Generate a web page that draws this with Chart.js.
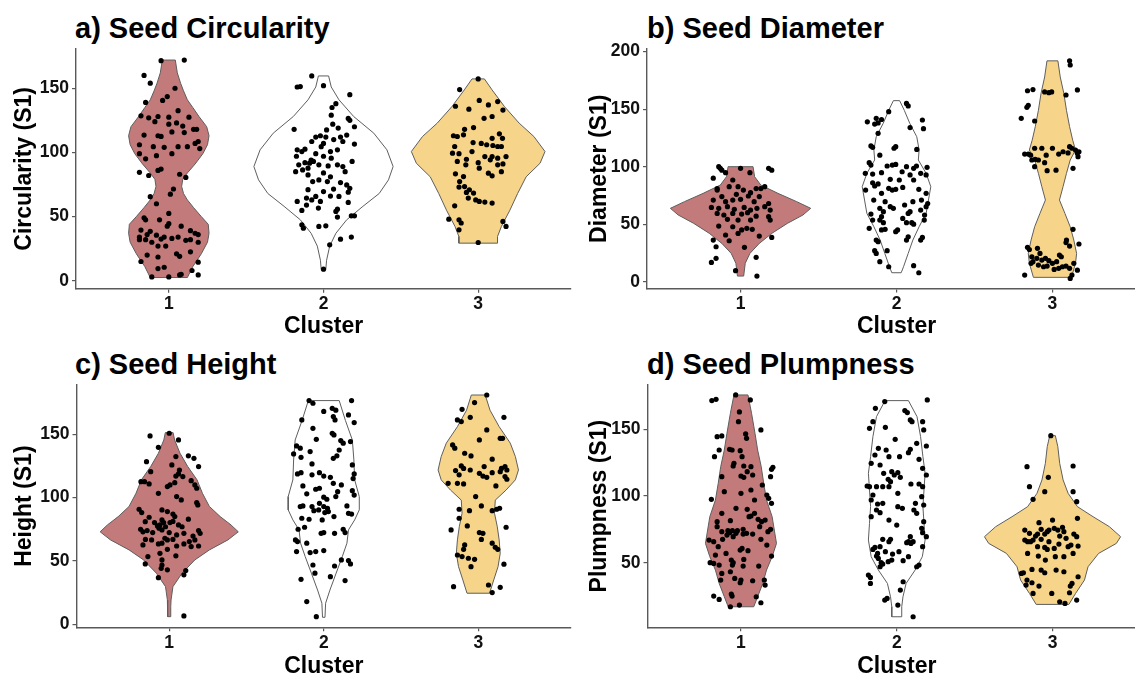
<!DOCTYPE html>
<html>
<head>
<meta charset="utf-8">
<script src="https://cdn.jsdelivr.net/npm/chart.js@4.4.1/dist/chart.umd.min.js"></script>
<style>
  html, body { margin: 0; padding: 0; background: #fff; overflow: hidden; width: 1135px; height: 677px; }
  canvas { position: absolute; }
  .title { position: absolute; font: bold 29px "Liberation Sans", Arial, sans-serif; line-height: 29px; color: #000; white-space: nowrap; }
</style>
</head>
<body>
<div class="title" style="left:75px; top:13.5px">a) Seed Circularity</div>
<div class="title" style="left:647px; top:13.5px">b) Seed Diameter</div>
<div class="title" style="left:75px; top:349.5px">c) Seed Height</div>
<div class="title" style="left:647px; top:349.5px">d) Seed Plumpness</div>
<canvas id="chart-a" width="575" height="340" style="left:0; top:0"></canvas>
<canvas id="chart-b" width="575" height="340" style="left:575px; top:0"></canvas>
<canvas id="chart-c" width="575" height="340" style="left:0; top:340px"></canvas>
<canvas id="chart-d" width="575" height="340" style="left:575px; top:340px"></canvas>
<script>
const clusters = [1, 2, 3];
const violinColors = ["#c27b7a", "#ffffff", "#f6d58a"];

// y ticks per panel
const circTicks = [0, 50, 100, 150];
const diamTicks = [0, 50, 100, 150, 200];
const heightTicks = [0, 50, 100, 150];
const plumpTicks = [50, 100, 150];

// violin outlines: [value, half width in cluster units], bottom to top
const circViolin1 = [[2.5,0.12],[11,0.155],[21,0.21],[30,0.25],[37,0.26],[44,0.255],[50,0.21],[57,0.16],[63,0.12],[68,0.095],[73.5,0.083],[79,0.09],[84,0.12],[91,0.17],[99,0.22],[106,0.25],[113,0.26],[120,0.245],[128,0.195],[135,0.155],[141,0.12],[148,0.095],[154,0.076],[162,0.055],[172,0.042]];
const circViolin2 = [[9,0.015],[16,0.02],[27,0.04],[37,0.08],[47.5,0.15],[58,0.255],[68,0.36],[78.6,0.42],[89,0.45],[102,0.41],[115,0.325],[128,0.195],[141,0.1],[151,0.05],[159.6,0.033]];
const circViolin3 = [[29.3,0.125],[34.5,0.125],[42.3,0.15],[55,0.205],[68,0.255],[81,0.31],[91.6,0.4],[100.7,0.432],[112.4,0.36],[122.8,0.265],[135.7,0.17],[148.7,0.09],[157.3,0.04]];

const diamViolin1 = [[4.9,0.02],[16,0.03],[24.6,0.06],[33.3,0.12],[42,0.2],[50.7,0.3],[58,0.4],[63.8,0.45],[69.6,0.36],[76.8,0.24],[84,0.13],[91.3,0.09],[100,0.08]];
const diamViolin2 = [[7.8,0.03],[13,0.045],[24.6,0.075],[36.2,0.105],[47.8,0.145],[59.4,0.19],[71,0.205],[82.6,0.22],[94.2,0.19],[105.8,0.14],[114.5,0.145],[126,0.13],[137.7,0.085],[149,0.05],[157.4,0.02]];
const diamViolin3 = [[3.8,0.122],[16,0.148],[24.6,0.155],[36.2,0.137],[47.8,0.114],[59.4,0.08],[71,0.045],[82.6,0.068],[94.2,0.09],[105.8,0.114],[114.5,0.148],[123,0.13],[134.8,0.11],[149,0.09],[163.8,0.073],[178,0.05],[192,0.035]];

const heightViolin1 = [[6,0.01],[14,0.01],[19.2,0.012],[29.7,0.024],[40.3,0.083],[50.8,0.166],[58.7,0.26],[66.6,0.38],[73,0.447],[78.4,0.4],[85,0.33],[93,0.26],[103.4,0.215],[114,0.18],[124.5,0.12],[135,0.07],[145.5,0.035],[151.3,0.025]];
const heightViolin2 = [[5.5,0.008],[16.6,0.012],[27,0.04],[40.3,0.08],[53.4,0.12],[64,0.15],[74.5,0.16],[82.4,0.2],[90.3,0.23],[100.8,0.23],[114,0.2],[129.7,0.195],[145.5,0.185],[161,0.14],[176.6,0.1]];
const heightViolin3 = [[24.5,0.073],[35,0.1],[45.5,0.128],[56,0.142],[66.6,0.135],[77,0.123],[87.6,0.105],[98,0.11],[106,0.18],[114,0.24],[121.8,0.26],[132.4,0.24],[143,0.207],[156,0.135],[169,0.076],[181,0.045]];

const plumpViolin1 = [[17,0.082],[24.5,0.107],[34.5,0.14],[44.5,0.164],[54.5,0.2],[64.5,0.228],[74.5,0.214],[84.5,0.2],[97,0.164],[109.5,0.146],[122,0.13],[134.5,0.107],[147,0.09],[162,0.068],[175.75,0.045]];
const plumpViolin2 = [[9.5,0.032],[17,0.032],[24.5,0.04],[34.5,0.06],[44.5,0.118],[54.5,0.164],[67,0.182],[79.5,0.175],[92,0.168],[104.5,0.175],[117,0.182],[129.5,0.168],[144.5,0.153],[159.5,0.13],[171.5,0.075]];
const plumpViolin3 = [[18.75,0.105],[27,0.148],[37,0.205],[47,0.228],[57,0.296],[64.5,0.41],[69.5,0.437],[77,0.365],[84.5,0.26],[92,0.16],[102,0.1],[112,0.068],[124.5,0.046],[137,0.034],[145.25,0.018]];

// jittered observations: [offset from cluster, value]
const circPoints1 = [[-0.05,171.5],[0.10,172],[-0.16,160],[-0.12,154],[0.04,150],[-0.01,143.5],[-0.04,140.5],[-0.15,139],[0.06,132.5],[-0.18,128.5],[-0.13,127],[-0.07,128],[0,127.5],[0.13,127.5],[0.05,123],[0.09,120.5],[0,122],[-0.09,124],[0.16,118],[0.18,118],[-0.16,113.5],[-0.07,113],[-0.05,112.5],[0.10,115.5],[0.02,116],[0.19,108.5],[0.17,107],[-0.19,106],[-0.10,104.5],[-0.03,104],[0.06,104.5],[0.12,104.5],[0.20,103],[-0.19,99],[0.02,99],[-0.08,97.5],[-0.15,95],[-0.05,87],[-0.07,86],[-0.19,84.5],[-0.13,82],[0.07,83],[0.11,80.5],[0.03,71.5],[0.01,67.5],[-0.12,65.5],[-0.08,60],[0,52.5],[-0.16,49],[-0.15,47.5],[-0.06,47.5],[0,44.5],[-0.01,42.5],[0.08,42.5],[-0.18,39.5],[-0.12,38.5],[0.14,39],[0.17,37],[0.19,36],[-0.19,34],[-0.14,36],[-0.08,35.5],[-0.03,34],[0.02,33],[0.06,34],[-0.19,32],[-0.15,32],[-0.05,32.5],[0.11,31.5],[0.14,32],[0.19,30],[-0.11,30],[-0.07,27],[-0.02,27],[-0.14,20],[-0.07,18.5],[0.05,21],[0.07,19],[0.14,22.5],[-0.18,15],[0.19,14.5],[-0.07,9.5],[-0.03,10.5],[0.07,4.5],[0.08,5],[0.15,8],[0.19,4.5],[-0.11,3],[0,3]];
const circPoints2 = [[-0.076,159.6],[0,152],[-0.17,151],[-0.15,151.3],[0.08,138],[0.055,135],[0.17,145],[0.05,129],[0.16,126.5],[0.17,125],[-0.19,118],[0.2,120],[0.06,122],[0.02,117.5],[0.095,119],[-0.05,112],[-0.02,113],[0.015,112],[0.11,112],[0.15,113.5],[-0.076,108.5],[0,107],[0.066,110],[0.125,108.5],[0.2,106.5],[-0.17,102],[-0.14,100.7],[-0.12,102.5],[-0.015,104.5],[0.045,100.7],[0.09,102],[-0.175,97],[-0.05,99],[0,97],[0.05,95.5],[-0.08,94],[-0.12,92],[-0.09,91.6],[-0.065,93],[-0.03,90.3],[-0.16,90.3],[0.03,89.5],[0.09,90.3],[0.125,89],[0.185,93],[0.14,85],[-0.135,86.4],[-0.1,87.7],[-0.18,85],[0,84],[0.045,81],[-0.03,78.6],[-0.07,77.3],[0.025,77.3],[-0.1,82.5],[0.11,76.5],[0.15,74.7],[0.17,72],[0.065,71.4],[-0.1,71],[0,69.5],[0.16,69],[-0.05,65.7],[-0.11,64.4],[-0.076,63],[0.045,66],[0.1,65.7],[-0.17,61.8],[-0.02,61.8],[0.16,61],[-0.11,59],[-0.033,56.6],[0.09,55.8],[0.08,54],[-0.14,54.8],[0.18,50.6],[0.2,50.6],[0.09,49.6],[-0.14,43.6],[-0.13,41],[-0.03,42.3],[0.015,42.8],[0.11,32.4],[0.18,34],[0.04,28],[0,9]];
const circPoints3 = [[-0.12,149],[0,157.3],[-0.147,136],[-0.06,133.7],[0.007,140.5],[0.066,137],[0.126,139.6],[0.16,133],[0.09,128],[0.038,126.6],[-0.03,119.4],[-0.088,118],[-0.135,112.4],[-0.16,113],[-0.095,113.7],[0.09,111],[0.137,114.5],[0.157,111],[-0.033,107.7],[0.02,107],[0.055,106],[0.095,105.4],[0.126,104.6],[0.15,104.6],[-0.152,104.6],[-0.166,99.4],[-0.124,99],[-0.04,100.7],[0.043,96.8],[0.09,96.8],[0.18,96.8],[0.126,95.5],[0.078,94.2],[-0.076,94.7],[-0.135,93],[0,92],[0.126,90.3],[0.16,91],[-0.08,90.3],[-0.147,83.3],[-0.095,81.2],[0.007,87.7],[0.066,83.8],[0.15,85],[0.09,81.8],[-0.12,77.3],[-0.088,73.4],[-0.124,73],[-0.057,70.9],[-0.076,68.8],[-0.03,68.3],[-0.064,64.4],[-0.016,63],[0.007,61.8],[0.043,61.3],[0.09,60.5],[-0.152,58.4],[-0.19,48],[-0.124,47.5],[-0.11,45],[-0.124,39.7],[0.16,46.2],[0.18,42.3],[0,29.8]];

const diamPoints1 = [[-0.14,100],[-0.13,98.6],[-0.12,97],[-0.096,94.8],[0,98.6],[0.06,94.8],[0.18,98.6],[0.2,97],[-0.175,90],[-0.05,88.4],[-0.073,82.6],[-0.15,81],[-0.15,79.7],[-0.016,82.6],[0.018,79.7],[0.064,77.4],[0.1,81],[0.13,81],[0.155,82.6],[-0.12,74],[-0.027,76],[0.05,74.5],[0.12,74],[-0.175,71],[-0.096,69.6],[-0.05,71],[0,71.6],[0.087,69.6],[0.18,68],[-0.187,64.6],[-0.14,63.8],[-0.084,65.2],[-0.04,63],[0.023,64.6],[0.064,62.3],[0.105,63.8],[0.155,65.2],[0.19,62.3],[-0.15,59.4],[-0.107,58],[-0.05,59.4],[0.007,58.8],[0.045,60],[0.1,57],[0.18,56.5],[-0.084,54.2],[-0.016,53.6],[0.064,53.6],[0.19,53.6],[-0.14,48.4],[-0.05,47.8],[0.007,45],[0.04,46.4],[0.075,45.5],[-0.096,40.6],[-0.016,42],[0.12,39.7],[0.2,38.5],[-0.175,36.2],[-0.073,35.6],[-0.157,30.4],[0.025,29.9],[-0.157,20.3],[-0.187,16.8],[0.1,21.2],[-0.032,9.6],[0.105,4.9]];
const diamPoints2 = [[0.064,155],[0.075,152.8],[-0.05,147.8],[-0.13,142],[-0.096,141],[-0.187,139],[-0.14,137],[-0.118,138],[0.087,134],[0.166,140.6],[0.173,133],[-0.118,129],[-0.164,118],[-0.153,116.8],[-0.016,116],[-0.005,117.4],[-0.107,110],[0.13,115],[-0.175,103.5],[-0.164,101.4],[-0.06,100.6],[-0.027,101.4],[-0.005,102],[0.064,100],[0.11,98.6],[0.128,100.6],[0.196,99.4],[-0.2,94.2],[-0.153,93.6],[-0.096,94.8],[0.036,95.6],[0.087,92.8],[0.155,94.2],[0.19,92.8],[-0.04,89],[0.018,88.4],[0.11,88.4],[-0.153,86],[-0.118,85],[-0.14,83.2],[-0.198,79.7],[-0.05,81.2],[-0.027,79.7],[-0.005,80.3],[0.04,82],[0.143,80.3],[0.19,76.8],[-0.096,76.8],[-0.146,71],[0.105,69.6],[0.16,71],[-0.073,69.6],[0.2,68],[0.052,66.7],[-0.04,65.2],[-0.02,63.8],[-0.107,63.8],[0.19,65.2],[0.155,62.3],[-0.084,60.9],[0.087,60.9],[0.075,59.4],[-0.164,58.8],[0.18,58],[-0.096,56.5],[-0.107,53.6],[0.04,55],[0.064,51.3],[0.098,51.3],[0.11,50],[-0.153,53.6],[0.178,53.6],[-0.084,51.3],[-0.096,45],[-0.073,45.5],[-0.175,46.4],[0.007,45],[-0.005,43.5],[0.075,39],[0.064,36.2],[-0.13,36.2],[-0.118,34.8],[0.166,38.5],[0.155,36.2],[-0.14,27],[-0.13,24.6],[-0.06,27],[-0.107,17.4],[-0.05,13],[0.11,13.9],[0.143,7.8]];
const diamPoints3 = [[0.11,192],[0.114,188.4],[-0.16,166],[-0.125,167],[-0.05,165],[-0.023,164.3],[-0.005,165],[0.16,166.7],[0.087,162.3],[-0.164,151.6],[-0.155,153.3],[-0.2,142],[-0.114,139.7],[-0.178,111],[-0.155,111],[-0.14,110],[-0.114,116],[-0.068,116],[-0.04,110],[0,116],[0.04,111],[0.068,113],[0.11,117.4],[0.125,116],[0.148,114.5],[0.16,111.6],[0.17,113],[0.164,108.7],[0.1,112],[-0.132,105.8],[-0.11,106.4],[-0.09,105.8],[-0.114,100],[-0.05,103.5],[0.132,98.6],[-0.034,96.5],[0.023,97],[0.132,45.5],[-0.16,29.9],[-0.148,28],[0.09,36.2],[0.087,34],[0.11,31],[0.17,32.8],[-0.096,29],[-0.08,24.6],[-0.132,21.7],[-0.1,20.3],[-0.125,17.4],[-0.137,16],[-0.068,18.8],[-0.045,20.3],[-0.023,18.3],[-0.09,14.5],[-0.057,13],[-0.034,13.6],[0,16],[0.027,17.4],[0.045,23.2],[0.057,21.7],[0.011,10.7],[0.04,11.6],[0.064,13],[0.087,13.6],[0.11,11.6],[0.137,16],[0.16,10],[-0.178,5.8],[0.125,5.8],[0.114,2.9]];

const heightPoints1 = [[-0.124,148.7],[0,150.8],[0.06,145.5],[-0.07,139.7],[0.043,132.4],[0.124,133],[0.16,131],[0.19,124.5],[-0.147,128.4],[0.017,125.8],[0.066,121.8],[-0.12,120.5],[0.043,117],[0.06,118.7],[-0.183,112.6],[-0.16,112.6],[-0.012,108.7],[0.005,110],[0.036,111.8],[0.088,116.6],[0.142,113.4],[0.166,110],[0.178,107.4],[-0.13,110.8],[0.048,100.8],[-0.07,103.4],[0.078,98.2],[0.178,96],[0.185,94.2],[-0.195,90.8],[-0.178,88.2],[-0.047,90.3],[-0.012,89],[-0.13,84.5],[0.024,87],[0.036,85],[0.124,83],[-0.047,82.4],[-0.036,80.3],[-0.155,81],[-0.095,80.3],[0.005,80.3],[0.024,81.2],[0.06,78.4],[0.083,77],[-0.076,77.6],[-0.06,78.4],[-0.024,77],[-0.185,75],[-0.17,73],[-0.143,74],[-0.107,72.4],[-0.066,75.8],[-0.047,74.5],[0.19,74],[0.2,71.8],[0,72.4],[0.048,70.5],[0.095,71.8],[0.154,69.7],[-0.154,67],[-0.114,66.6],[-0.028,67.9],[-0.012,66.6],[0.024,67],[0.13,65.3],[0.166,66.6],[-0.17,62.6],[-0.07,63.4],[-0.047,64],[0.048,61.8],[0.095,63.4],[0.19,61.8],[0.142,61.3],[-0.06,56],[-0.012,59.2],[-0.138,53.4],[0.043,54],[-0.047,50.8],[-0.155,47.6],[-0.047,46.8],[-0.052,44.2],[-0.012,43],[0.107,42.4],[0.095,39],[-0.07,36.8],[0.095,6.6]];
const heightPoints2 = [[-0.095,176.6],[-0.07,174.5],[0.18,176.6],[0.055,170.5],[0.078,169],[0,168],[-0.142,161.3],[0.062,164],[0.073,161.3],[0.16,165.3],[0.197,159.2],[-0.07,154.7],[0.055,150.8],[0.066,149.5],[-0.048,146],[0.11,145],[0.126,143],[0.173,144.2],[-0.176,140.8],[-0.152,139],[-0.088,136.3],[-0.195,134.5],[-0.147,131.8],[0.062,131],[0.085,133],[0.1,137.6],[0.185,125.8],[-0.076,126.6],[-0.147,119.7],[-0.17,118.7],[-0.076,118],[-0.028,119.7],[0,117],[0.043,116],[0.197,118.7],[0.19,115],[-0.135,109.2],[0.062,111.3],[0.114,110],[-0.052,106.6],[-0.028,107.4],[0.185,105.5],[0.197,102],[0.09,104.7],[-0.11,103],[0,100.3],[0.02,98.7],[0.078,100.8],[-0.028,95.5],[-0.135,93.4],[-0.152,92.9],[-0.076,92.9],[0,92.9],[0.024,91.6],[0.15,93.4],[-0.064,89.7],[-0.033,90.3],[0.007,88.2],[0.03,89],[0.16,87.6],[0.18,87],[0.066,85],[-0.01,82.4],[-0.142,83.7],[-0.095,82.9],[-0.124,76.6],[-0.166,75],[0.126,75],[0.138,72.4],[-0.017,71.8],[0,72.4],[0.07,71.8],[-0.183,66.6],[-0.17,65.3],[-0.11,64],[-0.088,56.6],[-0.052,57.4],[0,58.2],[-0.176,57.4],[0.16,50.3],[0.173,47.6],[0.114,50.8],[-0.07,46.8],[0.07,46],[-0.057,40.3],[-0.147,35.5],[0.043,37.6],[0.138,34.5],[-0.11,17.9],[-0.048,6]];
const heightPoints3 = [[0.055,181],[-0.024,175],[-0.105,169.7],[-0.052,163.4],[-0.135,161.3],[-0.11,160],[0.055,153.4],[0.166,163.4],[0.142,146.8],[0.157,146.8],[0.007,145.5],[-0.166,141.6],[-0.152,139],[-0.088,135],[-0.047,132.9],[0.09,130.3],[0.038,124.5],[0.15,123],[0.173,124.5],[-0.11,125],[-0.095,123],[-0.147,121.3],[-0.052,121.8],[0.09,119.7],[0.142,120.5],[0.185,121.8],[-0.124,118],[0.007,119.2],[0.03,117],[0.055,116],[0.173,116.6],[0.185,114.5],[-0.195,111.3],[-0.135,111.3],[-0.095,110.8],[0.114,109.2],[-0.017,100.8],[0.02,93.4],[-0.124,90.8],[-0.057,89.7],[0.09,89.7],[0.119,90.8],[0.138,91.6],[-0.124,83.7],[-0.176,74.5],[-0.071,77.6],[0.18,76.6],[0.007,72.4],[0.03,71.8],[0.02,67],[0.09,64],[0.11,60.8],[0.126,59.2],[-0.088,62.6],[-0.095,59.2],[-0.135,54.7],[-0.105,53.4],[-0.064,52.1],[-0.024,51.3],[-0.047,45.5],[0.166,47.4],[-0.16,29.7],[0.066,31],[0.142,29.2],[0.09,25]];

const plumpPoints1 = [[-0.187,171.5],[-0.16,172.5],[-0.034,175.75],[0.06,172],[-0.01,163],[-0.016,155.75],[0.128,149.5],[0.03,146.5],[0.036,143.25],[-0.153,144.5],[-0.123,145],[-0.14,134.5],[-0.073,135],[-0.057,134.5],[-0.005,134],[-0.17,129.5],[-0.045,124.5],[-0.05,122.5],[0.007,129.5],[0.018,122.5],[0.064,122],[0.04,118.25],[0.196,120],[0.205,121.5],[-0.123,114.5],[0,115],[0.018,114],[0.075,115.75],[0.19,114.5],[0.137,108.25],[0.064,104.5],[-0.107,103.25],[0,102],[0.166,100.75],[0.178,98.25],[-0.19,97.5],[0.087,97],[0.196,94.5],[-0.032,90.75],[0.04,90],[0.087,87],[-0.123,87],[0.052,84.5],[0.064,85],[0.11,82.5],[0.132,80.75],[0.155,82],[-0.153,80.75],[-0.068,81.5],[-0.153,77],[0.014,75],[0.19,75],[0.173,73.25],[0.12,77],[-0.123,73.25],[-0.084,74],[-0.073,72.5],[-0.055,74],[-0.032,72],[-0.023,74],[-0.09,70.75],[-0.05,69.5],[0.014,71.5],[0.036,72],[0.075,71.5],[-0.205,67],[-0.175,65.75],[-0.118,67.5],[0.128,67.5],[0.166,63.25],[-0.146,62],[0.007,60.75],[-0.005,59.5],[0.045,59],[-0.096,57],[-0.164,55.75],[0.196,55],[-0.198,50],[-0.175,49.5],[-0.14,48.25],[-0.062,52],[-0.05,50],[-0.055,48.25],[0.018,52.5],[0.014,47.5],[0.114,47.5],[-0.123,42],[-0.068,43.25],[-0.04,38.25],[0.15,37],[0.155,33.25],[-0.13,37],[0,37],[-0.005,35],[0.075,36.5],[-0.175,25],[-0.14,22.5],[-0.062,26.5],[-0.057,25],[0.098,24.5],[0.128,20],[-0.068,17],[-0.01,18.25]];
const plumpPoints2 = [[-0.077,170.75],[0.196,172],[-0.137,165.75],[0.052,164],[0.068,162.5],[0.087,157],[0.098,155.75],[-0.153,155.75],[-0.073,151.5],[-0.175,150.75],[0.166,155.75],[0.173,149.5],[-0.01,142.5],[0.128,139.5],[-0.118,135.75],[-0.068,134.5],[0.087,135],[0.075,132.5],[0.19,137.5],[-0.14,130.75],[-0.05,129.5],[0.018,129.5],[0.143,127.5],[-0.164,124.5],[-0.107,123.25],[0.166,120.75],[-0.084,117],[-0.032,118.25],[-0.016,115.75],[0.007,117.5],[-0.055,112.5],[-0.04,110.75],[0.023,114],[0.19,115.75],[0.091,109],[0.143,109],[-0.19,107.5],[-0.175,107],[-0.13,107],[-0.09,107],[-0.05,107],[0.166,107],[0.007,102],[-0.153,100.75],[0.16,99.5],[-0.164,97],[-0.09,94.5],[-0.123,94],[0.173,93.25],[0.12,94.5],[0.007,92],[0.036,90.75],[-0.13,89.5],[-0.107,87.5],[0.11,89.5],[0.128,87],[-0.164,84.5],[-0.05,82],[0.173,80.75],[0,78.25],[0.16,75.75],[0.166,72.5],[0.19,69.5],[0.087,69.5],[-0.09,67.5],[-0.05,65.75],[-0.04,67.5],[0.064,65],[0.075,65.75],[0.091,64.5],[0.105,65.75],[-0.14,61.5],[-0.153,60],[-0.107,62],[0.166,62],[-0.073,58.25],[0.014,58.25],[-0.123,57],[-0.13,55],[-0.118,53.25],[-0.027,56.5],[0.075,54.5],[-0.1,50],[-0.09,49],[-0.055,50.75],[-0.032,52],[0.041,51.5],[-0.107,47],[0.143,48.25],[0.128,47],[-0.182,40.75],[-0.169,39],[-0.169,34.5],[0.041,35.75],[0.023,29.5],[-0.077,22],[-0.062,23.25],[0.007,18.25],[0.105,9.5]];
const plumpPoints3 = [[-0.011,145.25],[-0.164,122],[0.132,122.5],[-0.027,114],[-0.148,107],[-0.05,103.25],[0.132,103.25],[-0.125,97.5],[0.155,95.75],[0.16,83.25],[-0.087,80],[0,82],[-0.178,74.5],[-0.073,75],[-0.034,73.25],[-0.023,74.5],[0.011,75.75],[0.034,74.5],[0.064,76.5],[0.073,73.25],[-0.148,72],[-0.109,70],[-0.096,71.5],[-0.05,71.5],[0.046,70],[0.087,68.25],[0.137,71.5],[0.155,69.5],[-0.178,67],[-0.16,65.75],[-0.141,65.75],[-0.125,67],[-0.073,67.5],[-0.023,65.75],[-0.096,62],[-0.05,61.5],[-0.034,60],[0.011,60.75],[0.041,64],[0.1,62],[0.118,63.25],[0.164,62.5],[-0.16,57],[-0.091,55],[0.018,54.5],[0.073,54.5],[0.132,57],[-0.046,52],[-0.132,45],[-0.073,44.5],[-0.05,42.5],[-0.187,42.5],[-0.2,42],[0.023,44.5],[0.073,43.25],[-0.164,37],[-0.132,35],[-0.087,32.5],[0.164,39.5],[0.114,32.5],[0.125,34.5],[-0.17,33.25],[-0.125,27],[-0.005,27],[0.109,27.5],[0.046,20.75],[0.08,19.5],[0.155,22]];

const FONT = '"Liberation Sans", Arial, sans-serif';
const AXIS_GREY = "#595959";

// mirror a half-width profile into a closed outline around the cluster
function violinOutline(profile, center) {
  const right = profile.map(([y, w]) => ({ x: center + w, y }));
  const left = profile.slice().reverse().map(([y, w]) => ({ x: center - w, y }));
  return [...right, ...left, right[0]];
}

function drawPanel(id, p) {
  const datasets = [];
  p.points.forEach((pts, i) => {
    datasets.push({
      data: pts.map(([dx, y]) => ({ x: clusters[i] + dx, y })),
      pointRadius: 2.6,
      pointBackgroundColor: "#000",
      pointBorderWidth: 0,
      order: 0,
    });
  });
  p.violins.forEach((prof, i) => {
    datasets.push({
      data: violinOutline(prof, clusters[i]),
      showLine: true,
      fill: "shape",
      backgroundColor: violinColors[i],
      borderColor: "#5e5e5e",
      borderWidth: 1,
      pointRadius: 0,
      tension: 0,
      order: 1,
    });
  });

  new Chart(document.getElementById(id), {
    type: "scatter",
    data: { datasets },
    options: {
      responsive: false,
      animation: false,
      events: [],
      layout: { padding: { top: p.top, right: p.right, left: 0, bottom: 0 } },
      plugins: { legend: { display: false }, tooltip: { enabled: false } },
      scales: {
        x: {
          min: 0.4,
          max: 3.6,
          afterBuildTicks: (s) => { s.ticks = clusters.map((v) => ({ value: v })); },
          afterFit: (s) => { s.height = 340 - p.bottom; },
          ticks: { color: "#111", padding: 1, font: { family: FONT, size: 17.5, weight: "bold" } },
          grid: { drawOnChartArea: false, color: AXIS_GREY, tickLength: 4, lineWidth: 1.2 },
          border: { color: AXIS_GREY, width: 1.4 },
          title: { display: true, text: "Cluster", color: "#000", padding: { top: 0, bottom: 2 }, font: { family: FONT, size: 23, weight: "bold", lineHeight: 1 } },
        },
        y: {
          min: p.yMin,
          max: p.yMax,
          afterBuildTicks: (s) => { s.ticks = p.ticks.map((v) => ({ value: v })); },
          afterFit: (s) => { s.width = p.left; },
          ticks: { color: "#111", padding: 3, font: { family: FONT, size: 17.5, weight: "bold" } },
          grid: { drawOnChartArea: false, color: AXIS_GREY, tickLength: 4, lineWidth: 1.2 },
          border: { color: AXIS_GREY, width: 1.4 },
          title: { display: true, text: p.yTitle, color: "#000", padding: { top: 13, bottom: 0 }, font: { family: FONT, size: 23, weight: "bold", lineHeight: 1 } },
        },
      },
    },
  });
}

drawPanel("chart-a", {
  violins: [circViolin1, circViolin2, circViolin3],
  points: [circPoints1, circPoints2, circPoints3],
  ticks: circTicks, yMin: -6.2, yMax: 180.6, yTitle: "Circularity (S1)",
  top: 49, bottom: 288.7, left: 76, right: 4,
});
drawPanel("chart-b", {
  violins: [diamViolin1, diamViolin2, diamViolin3],
  points: [diamPoints1, diamPoints2, diamPoints3],
  ticks: diamTicks, yMin: -5.9, yMax: 202.3, yTitle: "Diameter (S1)",
  top: 49, bottom: 288.5, left: 72, right: 3.7,
});
drawPanel("chart-c", {
  violins: [heightViolin1, heightViolin2, heightViolin3],
  points: [heightPoints1, heightPoints2, heightPoints3],
  ticks: heightTicks, yMin: -2.4, yMax: 188.9, yTitle: "Height (S1)",
  top: 45, bottom: 287.3, left: 76.5, right: 4,
});
drawPanel("chart-d", {
  violins: [plumpViolin1, plumpViolin2, plumpViolin3],
  points: [plumpPoints1, plumpPoints2, plumpPoints3],
  ticks: plumpTicks, yMin: 1.6, yMax: 183.2, yTitle: "Plumpness (S1)",
  top: 45, bottom: 287.3, left: 72.5, right: 3.7,
});
</script>
</body>
</html>
